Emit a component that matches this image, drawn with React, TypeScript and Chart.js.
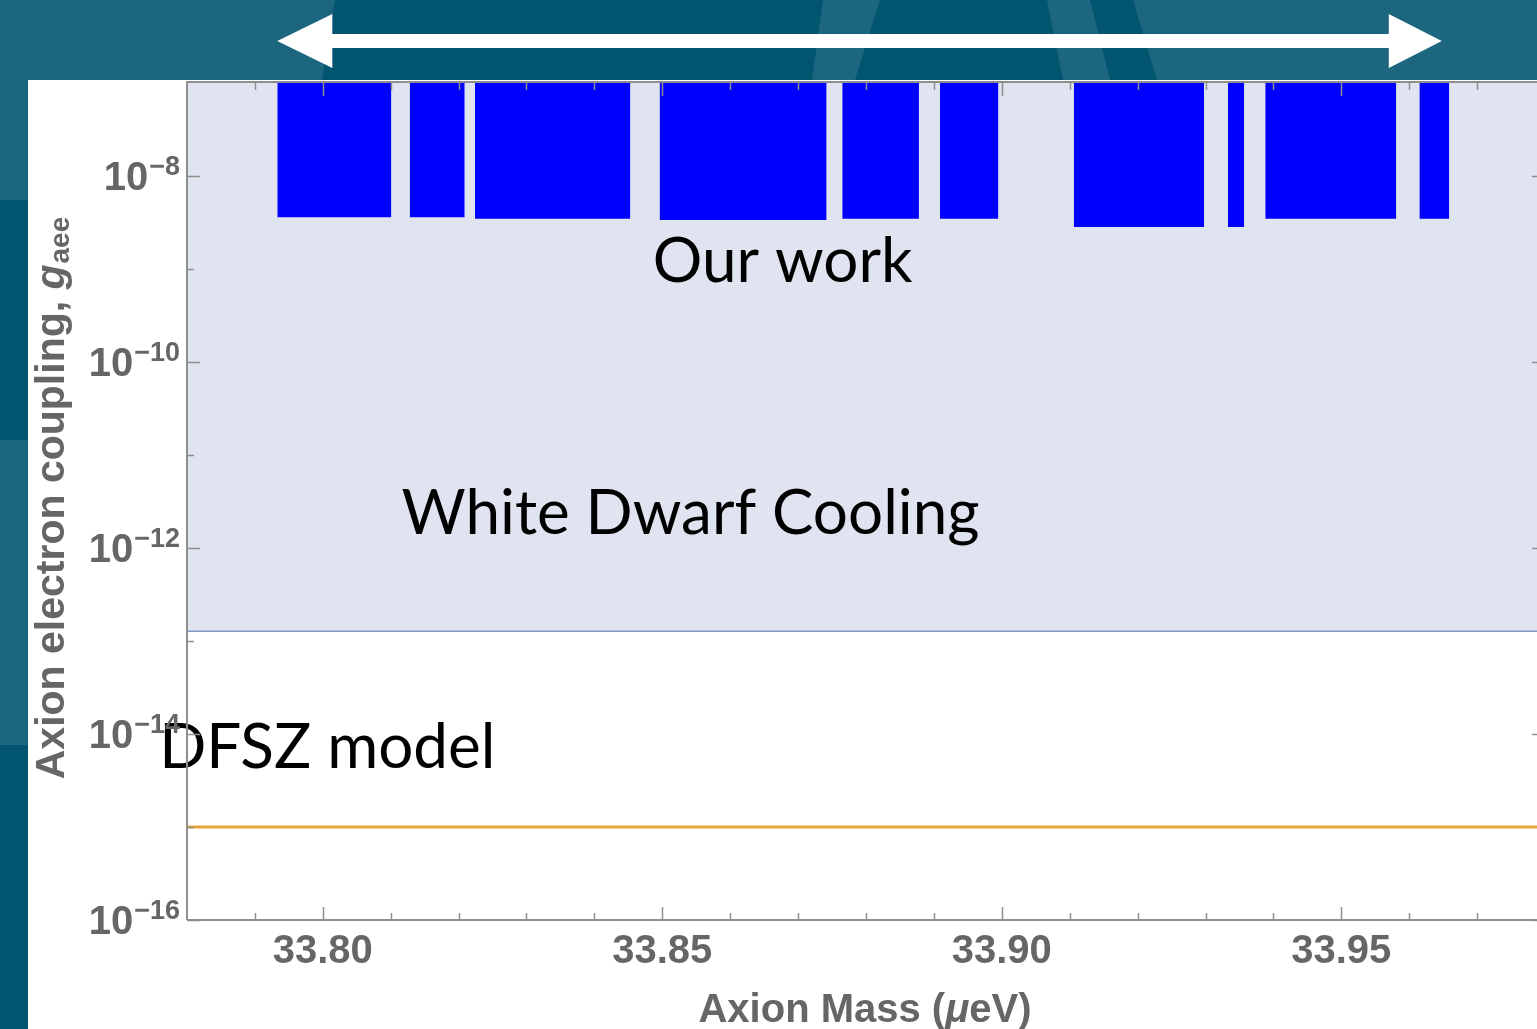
import React, { useEffect, useRef } from "react";
import { Chart, registerables } from "chart.js";

Chart.register(...registerables);

// ---- data ----
const xMin = 33.78;
const xMax = 33.98;
const yMin = 1e-16;
const yMax = 1e-7;

const xMajorTicks = [33.8, 33.85, 33.9, 33.95];
const xTickLabels = ["33.80", "33.85", "33.90", "33.95"];
const xMinorTicks = [33.79, 33.81, 33.82, 33.83, 33.84, 33.86, 33.87, 33.88, 33.89, 33.91, 33.92, 33.93, 33.94, 33.96, 33.97];
const yMajorExponents = [-16, -14, -12, -10, -8];
const yMinorExponents = [-15, -13, -11, -9];

// "Our work" exclusion bands (mass start, mass end, lower coupling limit)
const barStarts = [33.7933, 33.8128, 33.8224, 33.8496, 33.8765, 33.8909, 33.9106, 33.9333, 33.9388, 33.9615];
const barEnds = [33.8101, 33.8209, 33.8453, 33.8742, 33.8878, 33.8995, 33.9298, 33.9357, 33.9581, 33.9659];
const barLows = [3.6e-9, 3.6e-9, 3.47e-9, 3.37e-9, 3.47e-9, 3.47e-9, 2.83e-9, 2.83e-9, 3.47e-9, 3.47e-9];

const whiteDwarfLimit = 1.27e-13;
const dfszCoupling = 1e-15;

const arrowRange = [33.7933, 33.9648];

const annotationTexts = ["Our work", "White Dwarf Cooling", "DFSZ model"];
const annotationX = [33.8486, 33.8116, 33.7759];
const annotationY = [7.19e-10, 1.41e-12, 4.3e-15];

const xTitleParts = ["Axion Mass (", "\u03bc", "eV)"];
const yTitleParts = ["Axion electron coupling, ", "g", "aee"];

const TICK_COLOR = "#8e8e8e";
const LABEL_COLOR = "#666666";

const decorPlugin = {
  id: "decor",
  beforeDraw(chart: any) {
    const ctx = chart.ctx as CanvasRenderingContext2D;
    const W = chart.width;
    const H = chart.height;
    ctx.save();
    // slide background
    ctx.fillStyle = "#1d6680";
    ctx.fillRect(0, 0, W, H);
    ctx.fillStyle = "#02556f";
    const quad = (t0: number, t1: number, b1: number, b0: number) => {
      ctx.beginPath();
      ctx.moveTo(t0, 0);
      ctx.lineTo(t1, 0);
      ctx.lineTo(b1, 80);
      ctx.lineTo(b0, 80);
      ctx.closePath();
      ctx.fill();
    };
    quad(335, 823, 812, 322);
    quad(880, 1047, 1063, 855);
    quad(1090, 1133, 1157, 1110);
    ctx.fillRect(0, 200, 28, 240);
    ctx.fillRect(0, 745, 28, 300);
    // white panel
    ctx.fillStyle = "#ffffff";
    ctx.fillRect(28, 80, W - 28, H - 80);
    // arrow
    const xs = chart.scales.x;
    const a0 = xs.getPixelForValue(arrowRange[0]);
    const a1 = xs.getPixelForValue(arrowRange[1]);
    const cy = 41;
    ctx.fillStyle = "#ffffff";
    ctx.beginPath();
    ctx.moveTo(a0, cy);
    ctx.lineTo(a0 + 55, cy - 27);
    ctx.lineTo(a0 + 55, cy - 7);
    ctx.lineTo(a1 - 53, cy - 7);
    ctx.lineTo(a1 - 53, cy - 27);
    ctx.lineTo(a1, cy);
    ctx.lineTo(a1 - 53, cy + 27);
    ctx.lineTo(a1 - 53, cy + 7);
    ctx.lineTo(a0 + 55, cy + 7);
    ctx.lineTo(a0 + 55, cy + 27);
    ctx.closePath();
    ctx.fill();
    ctx.restore();
  },
  afterDatasetsDraw(chart: any) {
    const ctx = chart.ctx as CanvasRenderingContext2D;
    const area = chart.chartArea;
    const xs = chart.scales.x;
    const ys = chart.scales.y;
    ctx.save();
    // annotations
    ctx.fillStyle = "#000000";
    ctx.font = '62px "Lato"';
    ctx.textAlign = "left";
    ctx.textBaseline = "alphabetic";
    annotationTexts.forEach((t, i) => {
      ctx.fillText(t, xs.getPixelForValue(annotationX[i]), ys.getPixelForValue(annotationY[i]));
    });
    // frame
    ctx.strokeStyle = TICK_COLOR;
    ctx.lineWidth = 2;
    ctx.beginPath();
    ctx.moveTo(area.left, area.bottom);
    ctx.lineTo(area.right, area.bottom);
    ctx.moveTo(area.left, area.top - 1);
    ctx.lineTo(area.right, area.top - 1);
    ctx.moveTo(area.left, area.top - 2);
    ctx.lineTo(area.left, area.bottom);
    ctx.moveTo(area.right, area.top - 2);
    ctx.lineTo(area.right, area.bottom);
    ctx.stroke();
    ctx.lineWidth = 1.5;
    ctx.beginPath();
    const tickX = (v: number, len: number) => {
      const p = Math.round(xs.getPixelForValue(v)) + 0.5;
      ctx.moveTo(p, area.bottom);
      ctx.lineTo(p, area.bottom - len);
      ctx.moveTo(p, area.top);
      ctx.lineTo(p, area.top + len);
    };
    xMajorTicks.forEach((v) => tickX(v, 13));
    xMinorTicks.forEach((v) => tickX(v, 7));
    const tickY = (e: number, len: number) => {
      const p = Math.round(ys.getPixelForValue(Math.pow(10, e))) + 0.5;
      ctx.moveTo(area.left, p);
      ctx.lineTo(area.left + len, p);
      ctx.moveTo(area.right, p);
      ctx.lineTo(area.right - len, p);
    };
    yMajorExponents.forEach((e) => tickY(e, 13));
    yMinorExponents.forEach((e) => tickY(e, 7));
    ctx.stroke();
    ctx.restore();
  },
  afterDraw(chart: any) {
    const ctx = chart.ctx as CanvasRenderingContext2D;
    const area = chart.chartArea;
    const xs = chart.scales.x;
    const ys = chart.scales.y;
    ctx.save();
    ctx.fillStyle = LABEL_COLOR;
    ctx.textBaseline = "alphabetic";
    // x tick labels
    ctx.font = 'bold 40px "Liberation Sans"';
    ctx.textAlign = "center";
    xMajorTicks.forEach((v, i) => {
      ctx.fillText(xTickLabels[i], xs.getPixelForValue(v), area.bottom + 43);
    });
    // y tick labels
    ctx.textAlign = "right";
    yMajorExponents.forEach((e) => {
      const p = ys.getPixelForValue(Math.pow(10, e));
      const sup = "\u2212" + String(-e);
      ctx.font = 'bold 27px "Liberation Sans"';
      const supW = ctx.measureText(sup).width;
      const right = area.left - 7;
      ctx.fillText(sup, right, p - 1);
      ctx.font = 'bold 40px "Liberation Sans"';
      ctx.fillText("10", right - supW - 1, p + 14);
    });
    // x title
    ctx.textAlign = "left";
    const f0 = 'bold 40px "Liberation Sans"';
    const f1 = 'italic bold 40px "Liberation Sans"';
    ctx.font = f0;
    const w0 = ctx.measureText(xTitleParts[0]).width;
    const w2 = ctx.measureText(xTitleParts[2]).width;
    ctx.font = f1;
    const w1 = ctx.measureText(xTitleParts[1]).width;
    const total = w0 + w1 + w2;
    let sx = 865 - total / 2;
    const by = area.bottom + 102;
    ctx.font = f0;
    ctx.fillText(xTitleParts[0], sx, by);
    sx += w0;
    ctx.font = f1;
    ctx.fillText(xTitleParts[1], sx, by);
    sx += w1;
    ctx.font = f0;
    ctx.fillText(xTitleParts[2], sx, by);
    // y title (rotated)
    ctx.save();
    const midY = (area.top + area.bottom) / 2 - 3;
    ctx.translate(64, midY);
    ctx.rotate(-Math.PI / 2);
    const g0 = 'bold 41px "Liberation Sans"';
    const g1 = 'italic bold 41px "Liberation Sans"';
    const fs = 'bold 28px "Liberation Sans"';
    ctx.font = g0;
    const v0 = ctx.measureText(yTitleParts[0]).width;
    ctx.font = g1;
    const v1 = ctx.measureText(yTitleParts[1]).width;
    ctx.font = fs;
    const v2 = ctx.measureText(yTitleParts[2]).width;
    let tx = -(v0 + v1 + v2) / 2;
    ctx.font = g0;
    ctx.fillText(yTitleParts[0], tx, 0);
    tx += v0;
    ctx.font = g1;
    ctx.fillText(yTitleParts[1], tx, 0);
    tx += v1 + 1;
    ctx.font = fs;
    ctx.fillText(yTitleParts[2], tx, 5);
    ctx.restore();
    ctx.restore();
  },
};

export default function App() {
  const ref = useRef<HTMLCanvasElement | null>(null);
  useEffect(() => {
    if (!ref.current) return;
    const barSets = barStarts.map((s, i) => ({
      type: "line" as const,
      data: [
        { x: s, y: barLows[i] },
        { x: barEnds[i], y: barLows[i] },
      ],
      fill: "end",
      backgroundColor: "#0000ff",
      borderColor: "#0000ff",
      borderWidth: 0,
      pointRadius: 0,
      order: 0,
    }));
    const chart = new Chart(ref.current, {
      type: "line",
      data: {
        datasets: [
          ...barSets,
          {
            data: [
              { x: xMin, y: dfszCoupling },
              { x: xMax, y: dfszCoupling },
            ],
            fill: false,
            borderColor: "#e8a53a",
            borderWidth: 3,
            pointRadius: 0,
            order: 1,
          },
          {
            data: [
              { x: xMin, y: whiteDwarfLimit },
              { x: xMax, y: whiteDwarfLimit },
            ],
            fill: "end",
            backgroundColor: "#dfe4f0",
            borderColor: "#7f9bc6",
            borderWidth: 1.5,
            pointRadius: 0,
            order: 2,
          },
        ] as any,
      },
      options: {
        animation: false,
        responsive: false,
        devicePixelRatio: 1,
        layout: { padding: { left: 187, top: 83, right: 15, bottom: 109 } },
        plugins: { legend: { display: false }, tooltip: { enabled: false } },
        events: [],
        scales: {
          x: { type: "linear", min: xMin, max: xMax, display: false },
          y: { type: "logarithmic", min: yMin, max: yMax, display: false },
        },
      },
      plugins: [decorPlugin],
    });
    return () => chart.destroy();
  }, []);
  return (
    <div style={{ position: "fixed", left: 0, top: 0, width: 1537, height: 1029, overflow: "hidden" }}>
      <canvas ref={ref} width={1560} height={1029} style={{ display: "block", width: 1560, height: 1029 }} />
    </div>
  );
}
